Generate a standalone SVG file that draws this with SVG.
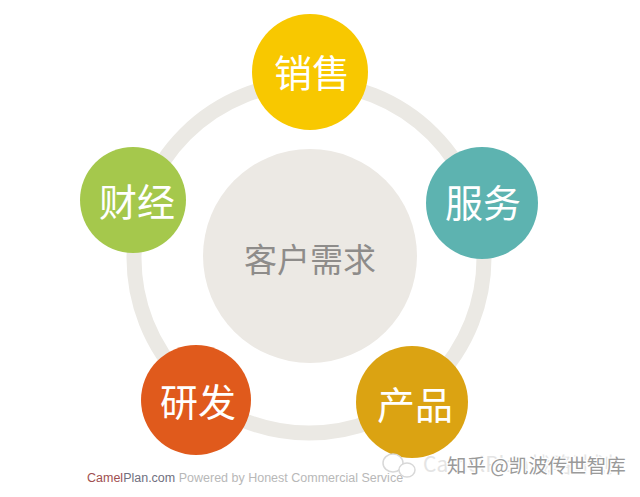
<svg xmlns="http://www.w3.org/2000/svg" width="640" height="497" viewBox="0 0 640 497">
<style>
.lbl{font-family:"Noto Sans CJK SC","Noto Sans",sans-serif;font-size:38px;fill:#ffffff;text-anchor:middle}
.ctr{font-family:"Noto Sans CJK SC","Noto Sans",sans-serif;font-size:33px;fill:#8e8c8a;text-anchor:middle}
.foot{font-family:"Liberation Sans",Arial,sans-serif;font-size:12.5px}
.wm{font-family:"Noto Sans CJK SC","Noto Sans",sans-serif;text-anchor:start}
</style>
<rect width="640" height="497" fill="#ffffff"/>
<g id="connectors">
  <circle cx="309" cy="258" r="175" fill="none" stroke="#ebe9e4" stroke-width="15"/>
</g>
<g id="center">
  <circle cx="310" cy="256" r="107" fill="#ece9e4"/>
  <text class="ctr" x="310" y="272">客户需求</text>
</g>
<g id="sales">
  <circle cx="310" cy="72" r="58" fill="#f8c800"/>
  <text class="lbl" x="312" y="87">销售</text>
</g>
<g id="service">
  <circle cx="482" cy="203" r="56" fill="#5db3b0"/>
  <text class="lbl" x="483" y="217">服务</text>
</g>
<g id="product">
  <circle cx="412" cy="402" r="56" fill="#dba312"/>
  <text class="lbl" x="415" y="419">产品</text>
</g>
<g id="rnd">
  <circle cx="196" cy="400" r="55" fill="#e05a1c"/>
  <text class="lbl" x="198" y="416">研发</text>
</g>
<g id="finance">
  <circle cx="133" cy="200" r="53" fill="#a5c84c"/>
  <text class="lbl" x="137" y="216">财经</text>
</g>
<g id="footer">
  <text class="foot" x="87" y="482"><tspan fill="#a05050">Camel</tspan><tspan fill="#707080">Plan.com</tspan><tspan fill="#b8b8b8"> Powered by Honest Commercial Service</tspan></text>
</g>
<g id="watermark">
  <ellipse cx="393" cy="463" rx="10" ry="9" fill="#ffffff" stroke="#d8d8d8" stroke-width="1.5"/>
  <ellipse cx="407" cy="470" rx="8" ry="7" fill="#ffffff" stroke="#d8d8d8" stroke-width="1.5"/>
  <text class="wm" x="423" y="472" font-size="21" fill="#e4e4e4">CamelPlan战略计划</text>
  <text class="wm" x="447" y="473" font-size="19.5" fill="#9a9a9a" stroke="#ffffff" stroke-width="2.5" paint-order="stroke">知乎 @凯波传世智库</text>
</g>
</svg>
